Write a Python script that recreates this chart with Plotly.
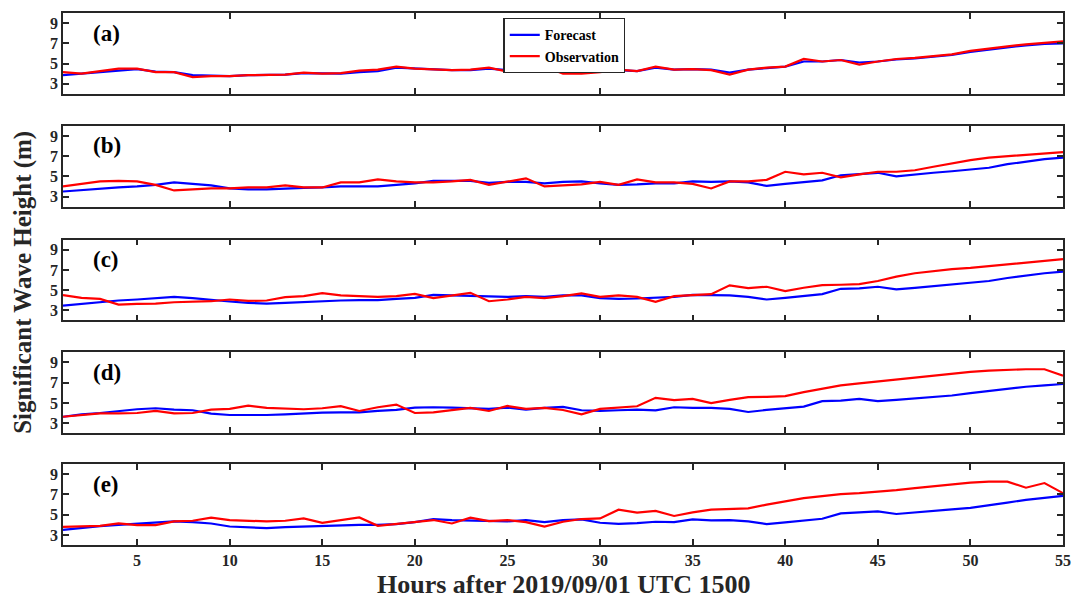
import plotly.graph_objects as go

hours = list(range(1, 56))
panel_labels = ["(a)", "(b)", "(c)", "(d)", "(e)"]

fc_a = [3.85, 4.0, 4.2, 4.35, 4.45, 4.2, 4.15, 3.85, 3.8, 3.75, 3.85,
        3.9, 3.9, 4.05, 4.0, 4.0, 4.15, 4.25, 4.6, 4.5, 4.45, 4.35,
        4.35, 4.5, 4.35, 4.4, 4.6, 4.25, 4.15, 4.2, 4.35, 4.25, 4.6,
        4.4, 4.45, 4.4, 4.1, 4.4, 4.55, 4.7, 5.2, 5.2, 5.35, 5.1,
        5.2, 5.4, 5.5, 5.65, 5.85, 6.15, 6.4, 6.6, 6.8, 6.95, 7.0]
ob_a = [4.15, 4.0, 4.25, 4.5, 4.5, 4.15, 4.15, 3.65, 3.75, 3.75, 3.85,
        3.9, 3.9, 4.1, 4.0, 4.05, 4.3, 4.4, 4.7, 4.5, 4.45, 4.35,
        4.4, 4.6, 4.2, 4.4, 4.7, 4.0, 4.0, 4.15, 4.4, 4.25, 4.7,
        4.4, 4.45, 4.35, 3.9, 4.4, 4.6, 4.7, 5.45, 5.2, 5.35, 4.9,
        5.2, 5.45, 5.55, 5.7, 5.9, 6.25, 6.5, 6.7, 6.9, 7.05, 7.2]

fc_b = [3.5, 3.65, 3.8, 3.9, 4.0, 4.15, 4.4, 4.25, 4.1, 3.8, 3.7,
        3.7, 3.8, 3.85, 3.9, 4.0, 4.0, 4.0, 4.15, 4.3, 4.55, 4.55,
        4.55, 4.35, 4.45, 4.45, 4.3, 4.45, 4.5, 4.3, 4.15, 4.2, 4.3,
        4.3, 4.5, 4.45, 4.5, 4.4, 4.05, 4.25, 4.4, 4.6, 5.1, 5.2,
        5.35, 5.0, 5.2, 5.35, 5.5, 5.7, 5.85, 6.2, 6.45, 6.7, 6.85]
ob_b = [4.0, 4.25, 4.5, 4.55, 4.5, 4.15, 3.6, 3.7, 3.8, 3.8, 3.9,
        3.9, 4.1, 3.9, 3.9, 4.4, 4.4, 4.7, 4.5, 4.4, 4.4, 4.5,
        4.65, 4.15, 4.5, 4.8, 4.0, 4.1, 4.2, 4.45, 4.15, 4.7, 4.4,
        4.4, 4.25, 3.8, 4.5, 4.5, 4.65, 5.45, 5.2, 5.35, 4.9, 5.2,
        5.45, 5.45, 5.6, 5.95, 6.28, 6.6, 6.85, 7.0, 7.15, 7.3, 7.4]

fc_c = [3.47, 3.65, 3.8, 3.97, 4.07, 4.2, 4.33, 4.2, 4.07, 3.87, 3.73,
        3.67, 3.73, 3.83, 3.9, 3.97, 4.0, 4.0, 4.13, 4.23, 4.53, 4.47,
        4.4, 4.33, 4.33, 4.4, 4.33, 4.47, 4.47, 4.2, 4.13, 4.17, 4.23,
        4.33, 4.53, 4.47, 4.47, 4.33, 4.07, 4.23, 4.4, 4.6, 5.13, 5.17,
        5.33, 5.07, 5.23, 5.4, 5.53, 5.67, 5.9, 6.2, 6.47, 6.67, 6.83]
ob_c = [4.5, 4.23, 4.13, 3.57, 3.63, 3.67, 3.8, 3.87, 3.9, 4.07, 3.93,
        3.97, 4.3, 4.4, 4.7, 4.47, 4.4, 4.33, 4.4, 4.63, 4.2, 4.47,
        4.73, 3.9, 4.07, 4.33, 4.2, 4.4, 4.67, 4.33, 4.47, 4.33, 3.83,
        4.4, 4.53, 4.6, 5.47, 5.2, 5.33, 4.9, 5.23, 5.5, 5.53, 5.6,
        5.9, 6.33, 6.67, 6.9, 7.07, 7.2, 7.37, 7.57, 7.73, 7.93, 8.07]

fc_d = [3.63, 3.87, 4.0, 4.2, 4.37, 4.47, 4.33, 4.27, 3.93, 3.8, 3.77,
        3.8, 3.87, 3.97, 4.03, 4.07, 4.07, 4.2, 4.3, 4.53, 4.57, 4.53,
        4.47, 4.4, 4.53, 4.33, 4.5, 4.6, 4.27, 4.2, 4.27, 4.33, 4.27,
        4.57, 4.5, 4.5, 4.4, 4.1, 4.3, 4.47, 4.63, 5.17, 5.23, 5.4,
        5.17, 5.3, 5.43, 5.57, 5.73, 5.97, 6.2, 6.43, 6.6, 6.73, 6.87]
ob_d = [3.63, 3.8, 3.97, 3.97, 4.0, 4.2, 3.97, 4.0, 4.33, 4.4, 4.73,
        4.5, 4.4, 4.37, 4.47, 4.67, 4.2, 4.57, 4.83, 4.0, 4.07, 4.3,
        4.5, 4.2, 4.7, 4.4, 4.5, 4.3, 3.87, 4.4, 4.53, 4.67, 5.5,
        5.27, 5.4, 4.97, 5.3, 5.57, 5.6, 5.67, 6.07, 6.4, 6.73, 6.93,
        7.13, 7.3, 7.47, 7.67, 7.87, 8.07, 8.2, 8.3, 8.33, 8.33, 7.7]

fc_e = [3.5, 3.7, 3.87, 4.0, 4.13, 4.27, 4.33, 4.27, 4.13, 3.83, 3.73,
        3.67, 3.77, 3.83, 3.9, 4.0, 4.0, 4.0, 4.07, 4.27, 4.57, 4.47,
        4.43, 4.33, 4.33, 4.47, 4.27, 4.47, 4.53, 4.2, 4.1, 4.17, 4.3,
        4.27, 4.53, 4.43, 4.47, 4.33, 4.07, 4.23, 4.4, 4.6, 5.13, 5.2,
        5.33, 5.07, 5.2, 5.37, 5.53, 5.67, 5.9, 6.2, 6.47, 6.67, 6.87]
ob_e = [3.8, 3.87, 3.9, 4.13, 3.97, 3.97, 4.33, 4.4, 4.7, 4.47, 4.4,
        4.33, 4.4, 4.63, 4.2, 4.5, 4.73, 3.9, 4.07, 4.27, 4.47, 4.13,
        4.7, 4.37, 4.47, 4.27, 3.83, 4.3, 4.57, 4.63, 5.5, 5.2, 5.37,
        4.87, 5.23, 5.5, 5.53, 5.63, 6.0, 6.33, 6.63, 6.83, 7.03, 7.13,
        7.27, 7.43, 7.63, 7.83, 8.03, 8.17, 8.27, 8.27, 7.67, 8.13, 7.13]

forecasts = [fc_a, fc_b, fc_c, fc_d, fc_e]
observations = [ob_a, ob_b, ob_c, ob_d, ob_e]
x_dticks = [10, 10, 5, 10, 5]
y_tickvals = [3, 5, 7, 9]

W, H = 1082, 598
L, R, T, B = 63, 1071, 12, 545
panel_tops = [12, 125, 239, 352, 464]
panel_h = 81
FONT = "Liberation Serif"
AXC = "#262626"

fig = go.Figure()
layout = dict(
    width=W, height=H,
    margin=dict(l=L, r=W - R, t=T, b=H - B),
    paper_bgcolor="white", plot_bgcolor="white",
    font=dict(family=FONT, color="black"),
    showlegend=True,
    legend=dict(
        x=(507 - L) / (R - L), y=(B - 17) / (B - T),
        xanchor="left", yanchor="top",
        bgcolor="white", bordercolor=AXC, borderwidth=1.3,
        font=dict(family=FONT, size=14, weight="bold", color="black"),
        tracegroupgap=0, itemwidth=30,
    ),
    annotations=[],
)

for i in range(5):
    n = "" if i == 0 else str(i + 1)
    top = panel_tops[i]
    bot = top + panel_h
    d0 = (B - bot) / (B - T)
    d1 = (B - top) / (B - T)
    fig.add_trace(go.Scatter(
        x=hours, y=forecasts[i], mode="lines", name="Forecast",
        line=dict(color="#0000FF", width=2.2),
        xaxis="x" + n, yaxis="y" + n, showlegend=(i == 0)))
    fig.add_trace(go.Scatter(
        x=hours, y=observations[i], mode="lines", name="Observation",
        line=dict(color="#FF0000", width=2.2),
        xaxis="x" + n, yaxis="y" + n, showlegend=(i == 0)))
    layout["xaxis" + n] = dict(
        domain=[0, 1], anchor="y" + n, range=[1, 55],
        tick0=0, dtick=x_dticks[i], ticks="inside", ticklen=6,
        tickwidth=1.5, tickcolor=AXC, showgrid=False, zeroline=False,
        showline=True, linecolor=AXC, linewidth=1.5, mirror="ticks",
        showticklabels=(i == 4),
        tickfont=dict(family=FONT, size=16, weight="bold", color=AXC),
    )
    layout["yaxis" + n] = dict(
        domain=[d0, d1], anchor="x" + n, range=[2, 10],
        tickvals=y_tickvals, ticks="inside", ticklen=6,
        tickwidth=1.5, tickcolor=AXC, showgrid=False, zeroline=False,
        showline=True, linecolor=AXC, linewidth=1.5, mirror="ticks",
        tickfont=dict(family=FONT, size=16, weight="bold", color=AXC),
    )
    layout["annotations"].append(dict(
        text=panel_labels[i], xref="x" + n, yref="y" + n,
        x=2.5, y=8.0, xanchor="left", yanchor="middle", showarrow=False,
        font=dict(family=FONT, size=23, weight="bold", color="black")))

layout["annotations"].append(dict(
    text="Significant Wave Height (m)", xref="paper", yref="paper",
    x=-40 / (R - L), y=(B - 282) / (B - T), xanchor="center", yanchor="middle",
    textangle=-90, showarrow=False,
    font=dict(family=FONT, size=25, weight="bold", color=AXC)))
layout["annotations"].append(dict(
    text="Hours after 2019/09/01 UTC 1500", xref="paper", yref="paper",
    x=(568 - L) / (R - L), y=-(585 - B) / (B - T), xanchor="center", yanchor="middle",
    showarrow=False,
    font=dict(family=FONT, size=26, weight="bold", color=AXC)))

fig.update_layout(**layout)
fig.write_html(
    "out.html",
    config={"displayModeBar": False},
    post_script="document.body.style.margin='0';document.body.style.overflow='hidden';",
)
